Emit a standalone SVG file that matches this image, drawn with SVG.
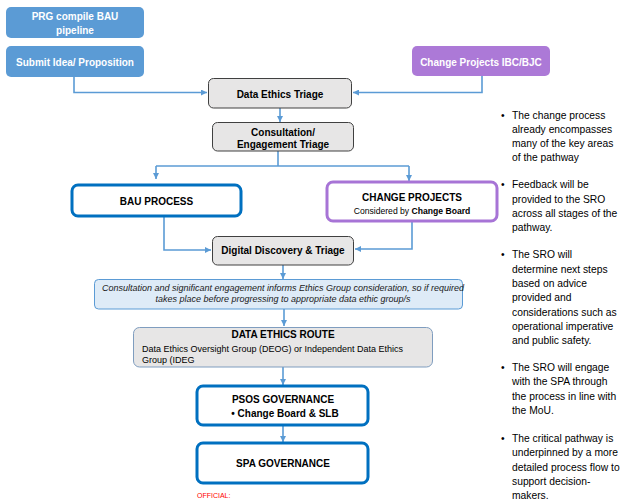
<svg xmlns="http://www.w3.org/2000/svg" width="622" height="501" viewBox="0 0 622 501">
<defs>
<marker id="ah" viewBox="0 0 10 10" refX="10" refY="5" markerWidth="6" markerHeight="6" markerUnits="userSpaceOnUse" orient="auto">
<path d="M0,0 L10,5 L0,10 z" fill="#5B9BD5"/>
</marker>
<style>
text{font-family:"Liberation Sans",Arial,sans-serif;}
.blue{fill:#5B9BD5;}
.purple{fill:#AC79D7;}
.gray{fill:#E7E6E6;stroke:#404040;stroke-width:1;}
.thick{fill:#FFFFFF;stroke:#0070C0;stroke-width:3;}
.thickp{fill:#FFFFFF;stroke:#A774D6;stroke-width:3;}
.wt{fill:#FFFFFF;font-size:10px;font-weight:bold;text-anchor:middle;}
.bt{fill:#000000;font-size:10px;font-weight:bold;text-anchor:middle;}
.conn{fill:none;stroke:#5B9BD5;stroke-width:1.6;}
.bl{fill:#000000;font-size:10.3px;}
</style>
</defs>

<g id="connectors">
<path class="conn" d="M74,77 V92.5 H207" marker-end="url(#ah)"/>
<path class="conn" d="M482,76 V92.5 H353" marker-end="url(#ah)"/>
<path class="conn" d="M280,108 V122" marker-end="url(#ah)"/>
<path class="conn" d="M278,151 V166"/>
<path class="conn" d="M156,166 H409"/>
<path class="conn" d="M156,166 V179" marker-end="url(#ah)"/>
<path class="conn" d="M409,166 V181" marker-end="url(#ah)"/>
<path class="conn" d="M164,217 V250 H211" marker-end="url(#ah)"/>
<path class="conn" d="M412,222 V249 H355" marker-end="url(#ah)"/>
<path class="conn" d="M283,265 V279" marker-end="url(#ah)"/>
<path class="conn" d="M284,309 V326" marker-end="url(#ah)"/>
<path class="conn" d="M283,367 V385" marker-end="url(#ah)"/>
<path class="conn" d="M283,425 V442" marker-end="url(#ah)"/>
</g>

<g id="prg">
<rect class="blue" x="6" y="7" width="138" height="31" rx="5"/>
<text class="wt" x="75" y="20">PRG compile BAU</text>
<text class="wt" x="75" y="34">pipeline</text>
</g>

<g id="submit">
<rect class="blue" x="6" y="46" width="138" height="31" rx="5"/>
<text class="wt" x="75" y="65.5">Submit Idea/ Proposition</text>
</g>

<g id="ibc">
<rect class="purple" x="412" y="46" width="138" height="30" rx="5"/>
<text class="wt" x="481" y="66">Change Projects IBC/BJC</text>
</g>

<g id="det">
<rect class="gray" x="208.5" y="78.5" width="143" height="29.5" rx="5"/>
<text class="bt" x="280" y="97.5">Data Ethics Triage</text>
</g>

<g id="consult">
<rect class="gray" x="212.5" y="122.5" width="141" height="28.5" rx="5"/>
<text class="bt" x="283" y="136">Consultation/</text>
<text class="bt" x="283" y="148">Engagement Triage</text>
</g>

<g id="bau">
<rect class="thick" x="72" y="185" width="169" height="31" rx="6"/>
<text class="bt" x="156.5" y="204.5">BAU PROCESS</text>
</g>

<g id="change">
<rect class="thickp" x="327" y="182" width="170" height="39" rx="6"/>
<text class="bt" x="412" y="200.5">CHANGE PROJECTS</text>
<text x="412" y="214" style="font-size:8.6px;text-anchor:middle;fill:#000">Considered by <tspan font-weight="bold">Change Board</tspan></text>
</g>

<g id="dd">
<rect class="gray" x="212.5" y="236.5" width="141" height="28.5" rx="5"/>
<text class="bt" x="283" y="253.5">Digital Discovery &amp; Triage</text>
</g>

<g id="note">
<rect x="94.5" y="279.5" width="368" height="29.5" rx="4" fill="#DEEBF7" stroke="#5B9BD5" stroke-width="1"/>
<text x="283" y="290.5" style="font-size:9px;font-style:italic;text-anchor:middle;fill:#1a1a1a">Consultation and significant engagement informs Ethics Group consideration, so if required</text>
<text x="283" y="301.5" style="font-size:9px;font-style:italic;text-anchor:middle;fill:#1a1a1a">takes place before progressing to appropriate data ethic group/s</text>
</g>

<g id="der">
<rect x="133.5" y="327.5" width="299" height="39.5" rx="6" fill="#E7E6E6" stroke="#7F9DBF" stroke-width="1"/>
<text class="bt" x="283" y="338">DATA ETHICS ROUTE</text>
<text x="142" y="351.5" style="font-size:9px;fill:#000">Data Ethics Oversight Group (DEOG) or Independent Data Ethics</text>
<text x="142" y="362.5" style="font-size:9px;fill:#000">Group (IDEG</text>
</g>

<g id="psos">
<rect class="thick" x="197" y="386" width="171" height="39" rx="6"/>
<text class="bt" x="283" y="402.5">PSOS GOVERNANCE</text>
<text class="bt" x="285" y="416.5">• Change Board &amp; SLB</text>
</g>

<g id="spa">
<rect class="thick" x="197" y="443" width="171" height="40" rx="6"/>
<text class="bt" x="283" y="466.5">SPA GOVERNANCE</text>
</g>

<text x="197" y="497.5" style="font-size:7px;fill:#FF0000">OFFICIAL:</text>

<g id="bullets">
<text class="bl" x="501" y="118.5">•</text>
<text class="bl" x="512" y="118.5">The change process</text>
<text class="bl" x="512" y="132.5">already encompasses</text>
<text class="bl" x="512" y="147">many of the key areas</text>
<text class="bl" x="512" y="161">of the pathway</text>
<text class="bl" x="501" y="188">•</text>
<text class="bl" x="512" y="188">Feedback will be</text>
<text class="bl" x="512" y="202.5">provided to the SRO</text>
<text class="bl" x="512" y="216.5">across all stages of the</text>
<text class="bl" x="512" y="231">pathway.</text>
<text class="bl" x="501" y="258">•</text>
<text class="bl" x="512" y="258">The SRO will</text>
<text class="bl" x="512" y="272.5">determine next steps</text>
<text class="bl" x="512" y="286.5">based on advice</text>
<text class="bl" x="512" y="301">provided and</text>
<text class="bl" x="512" y="315.5">considerations such as</text>
<text class="bl" x="512" y="329.5">operational imperative</text>
<text class="bl" x="512" y="344">and public safety.</text>
<text class="bl" x="501" y="371">•</text>
<text class="bl" x="512" y="371">The SRO will engage</text>
<text class="bl" x="512" y="385">with the SPA through</text>
<text class="bl" x="512" y="400">the process in line with</text>
<text class="bl" x="512" y="414">the MoU.</text>
<text class="bl" x="501" y="442">•</text>
<text class="bl" x="512" y="442">The critical pathway is</text>
<text class="bl" x="512" y="456">underpinned by a more</text>
<text class="bl" x="512" y="470.5">detailed process flow to</text>
<text class="bl" x="512" y="484.5">support decision-</text>
<text class="bl" x="512" y="499">makers.</text>
</g>
</svg>
